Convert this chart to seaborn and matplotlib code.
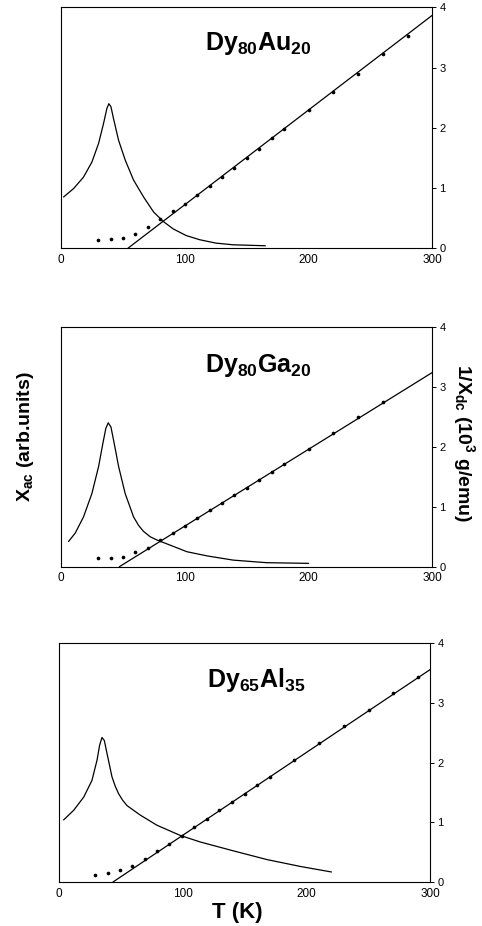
import matplotlib
matplotlib.use("Agg")
import pandas as pd
import matplotlib.pyplot as plt
import seaborn as sns

# --- Data ---
# Dy80Au20
AU_T_DC = [30, 40, 50, 60, 70, 80, 90, 100, 110, 120, 130, 140, 150, 160, 170, 180, 200, 220, 240, 260, 280]
AU_INV_DC = [0.13, 0.145, 0.17, 0.24, 0.35, 0.48, 0.61, 0.74, 0.88, 1.03, 1.18, 1.33, 1.50, 1.65, 1.83, 1.98, 2.29, 2.60, 2.90, 3.22, 3.53]
AU_FIT_T = [54, 300]
AU_FIT_Y = [0.0, 3.87]
AU_T_AC = [1.9, 10, 18, 24.8, 30.2, 34.2, 36.9, 38.5, 40.2, 42.3, 46.4, 51.8, 58.5, 66.6, 74.7, 82.7,
           90.5, 101, 112, 125, 139, 165]
AU_CHI_AC = [0.85, 0.99, 1.18, 1.43, 1.74, 2.07, 2.32, 2.40, 2.35, 2.15, 1.79, 1.46, 1.13, 0.85, 0.60, 0.44,
             0.32, 0.21, 0.14, 0.084, 0.056, 0.04]

# Dy80Ga20
GA_T_DC = [30, 40, 50, 60, 70, 80, 90, 100, 110, 120, 130, 140, 150, 160, 170, 180, 200, 220, 240, 260]
GA_INV_DC = [0.14, 0.145, 0.17, 0.24, 0.32, 0.45, 0.56, 0.68, 0.81, 0.94, 1.07, 1.19, 1.32, 1.45, 1.58, 1.72, 1.97, 2.23, 2.49, 2.74]
GA_FIT_T = [47, 300]
GA_FIT_Y = [0.0, 3.24]
GA_T_AC = [5.9, 11.3, 18, 24.8, 30.2, 33.7, 36.1, 38, 40.2, 42.8, 46.4, 51.7, 58.5, 62.5, 66.5, 71.9, 77.4, 88,
           101.6, 118, 139, 166, 200]
GA_CHI_AC = [0.42, 0.56, 0.83, 1.22, 1.67, 2.06, 2.31, 2.40, 2.33, 2.06, 1.67, 1.22, 0.83, 0.69, 0.59, 0.50, 0.445, 0.36,
             0.25, 0.18, 0.11, 0.067, 0.056]

# Dy65Al35
AL_T_DC = [29, 39, 49, 59, 69, 79, 89, 99, 109, 119, 129, 140, 150, 160, 170, 190, 210, 230, 250, 270, 290]
AL_INV_DC = [0.12, 0.145, 0.20, 0.27, 0.38, 0.52, 0.64, 0.77, 0.92, 1.06, 1.20, 1.34, 1.48, 1.63, 1.76, 2.05, 2.33, 2.61, 2.88, 3.16, 3.44]
AL_FIT_T = [43.4, 300]
AL_FIT_Y = [0.0, 3.56]
AL_T_AC = [3.5, 11.6, 19.7, 26.4, 30.5, 32.6, 34.5, 36.4, 38.6, 42.6, 45.3, 47.9, 51.2, 54.7, 65.5, 79, 97.8,
           114, 141, 168, 195, 220]
AL_CHI_AC = [1.04, 1.2, 1.42, 1.70, 2.04, 2.29, 2.42, 2.37, 2.15, 1.76, 1.60, 1.48, 1.37, 1.28, 1.12, 0.95, 0.78,
             0.67, 0.52, 0.375, 0.26, 0.168]

TITLES = [r"$\mathbf{Dy_{80}Au_{20}}$", r"$\mathbf{Dy_{80}Ga_{20}}$", r"$\mathbf{Dy_{65}Al_{35}}$"]
X_TICKS = [0, 100, 200, 300]
Y_TICKS = [0, 1, 2, 3, 4]

panels = [
    (AU_T_DC, AU_INV_DC, AU_FIT_T, AU_FIT_Y, AU_T_AC, AU_CHI_AC),
    (GA_T_DC, GA_INV_DC, GA_FIT_T, GA_FIT_Y, GA_T_AC, GA_CHI_AC),
    (AL_T_DC, AL_INV_DC, AL_FIT_T, AL_FIT_Y, AL_T_AC, AL_CHI_AC),
]

sns.set_style("ticks")
plt.rcParams['font.family'] = ['Liberation Sans', 'DejaVu Sans']
plt.rcParams['mathtext.fontset'] = 'custom'
plt.rcParams['mathtext.rm'] = 'Liberation Sans'
plt.rcParams['mathtext.it'] = 'Liberation Sans'
plt.rcParams['mathtext.bf'] = 'Liberation Sans:bold'
for key in ['text.color', 'xtick.color', 'ytick.color', 'axes.labelcolor', 'axes.edgecolor']:
    plt.rcParams[key] = 'black'

fig = plt.figure(figsize=(4.82, 9.26), dpi=100)

# axes rectangles in figure fraction (left, bottom, width, height)
rects = [
    (0.127, 0.732, 0.770, 0.260),
    (0.127, 0.388, 0.770, 0.259),
    (0.123, 0.0475, 0.770, 0.258),
]
title_y = [0.85, 0.84, 0.845]

for i, (rect, data) in enumerate(zip(rects, panels)):
    t_dc, inv_dc, fit_t, fit_y, t_ac, chi_ac = data
    ax = fig.add_axes(rect)

    df_ac = pd.DataFrame({'T': t_ac, 'chi': chi_ac})
    df_dc = pd.DataFrame({'T': t_dc, 'inv': inv_dc})
    df_fit = pd.DataFrame({'T': fit_t, 'inv': fit_y})

    sns.lineplot(data=df_ac, x='T', y='chi', ax=ax, color='black', lw=0.9, sort=False)
    sns.lineplot(data=df_fit, x='T', y='inv', ax=ax, color='black', lw=0.9)
    sns.scatterplot(data=df_dc, x='T', y='inv', ax=ax, color='black', s=7, linewidth=0)

    ax.set_xlim(0, 300)
    ax.set_ylim(0, 4)
    ax.set_xticks(X_TICKS)
    ax.set_yticks(Y_TICKS)
    ax.yaxis.tick_right()
    ax.tick_params(axis='y', direction='out', length=3, width=0.7, labelsize=8, pad=2)
    ax.tick_params(axis='x', direction='out', length=0, labelsize=8.5, pad=4)
    ax.set_xlabel('')
    ax.set_ylabel('')
    for sp in ax.spines.values():
        sp.set_visible(True)
        sp.set_linewidth(0.8)

    ax.text(0.53, title_y[i], TITLES[i], transform=ax.transAxes, ha='center', va='center',
            fontsize=18)

# shared axis labels
fig.text(0.052, 0.528, r"X$_{\mathbf{ac}}$ (arb.units)", rotation=90, ha='center', va='center',
         fontsize=14, fontweight='bold')
fig.text(0.962, 0.522, r"1/X$_{\mathbf{dc}}$ (10$^{\mathbf{3}}$ g/emu)", rotation=270, ha='center', va='center',
         fontsize=14, fontweight='bold')
fig.text(0.492, 0.015, "T (K)", ha='center', va='center', fontsize=16, fontweight='bold')

fig.savefig("out.png", dpi=100)
